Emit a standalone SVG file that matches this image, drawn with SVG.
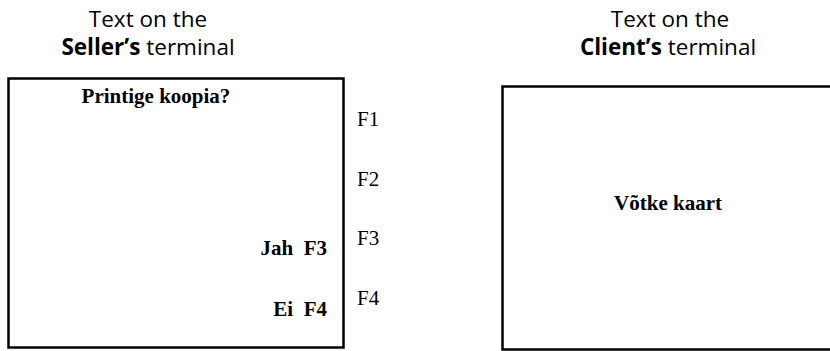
<svg xmlns="http://www.w3.org/2000/svg" width="830" height="351" viewBox="0 0 830 351">
<style>
.hdr{font-family:"Open Sans","Noto Sans",sans-serif;font-size:22.5px;fill:#000;text-anchor:middle}
.b{font-weight:bold}
.scr{font-family:"Liberation Serif","Times New Roman",serif;font-size:21px;font-weight:bold;fill:#000;white-space:pre}
.fk{font-family:"Liberation Serif","Times New Roman",serif;font-size:21px;fill:#000}
.box{fill:#fff;stroke:#000;stroke-width:2.5}
</style>
<rect width="830" height="351" fill="#fff"/>
<g id="seller">
<text class="hdr" x="148" y="27">Text on the</text>
<text class="hdr" x="148" y="55"><tspan class="b">Seller’s</tspan> terminal</text>
<rect class="box" x="8.5" y="78.5" width="335" height="269"/>
<text class="scr" x="156" y="103" text-anchor="middle">Printige koopia?</text>
<text class="scr" x="327" y="255" text-anchor="end" xml:space="preserve">Jah  F3</text>
<text class="scr" x="327" y="316" text-anchor="end" xml:space="preserve">Ei  F4</text>
</g>
<g id="fkeys">
<text class="fk" x="357" y="126">F1</text>
<text class="fk" x="357" y="186">F2</text>
<text class="fk" x="357" y="245">F3</text>
<text class="fk" x="357" y="305">F4</text>
</g>
<g id="client">
<text class="hdr" x="670" y="27">Text on the</text>
<text class="hdr" x="668" y="55"><tspan class="b">Client’s</tspan> terminal</text>
<rect class="box" x="502.5" y="86.5" width="340" height="263"/>
<text class="scr" x="668" y="210" text-anchor="middle">Võtke kaart</text>
</g>
<g id="connectors"/>
</svg>
